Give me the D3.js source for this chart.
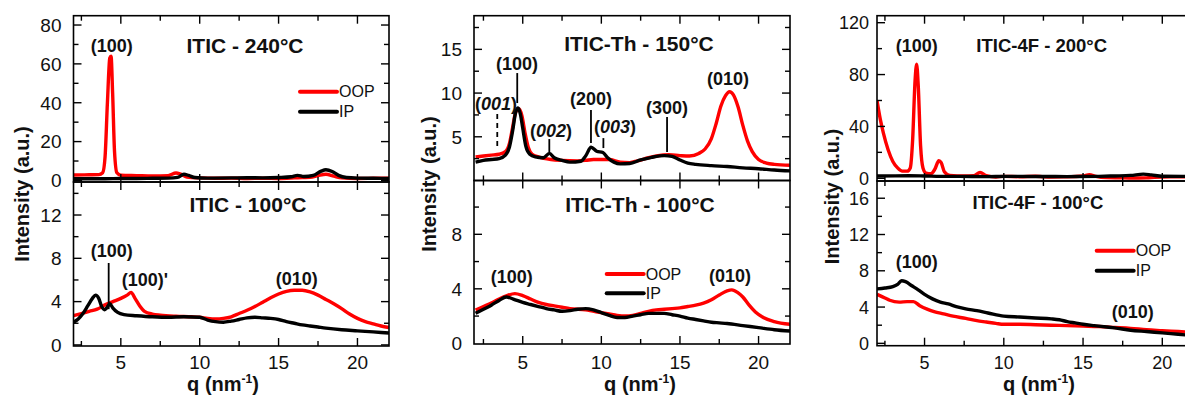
<!DOCTYPE html>
<html><head><meta charset="utf-8">
<script src="https://cdn.jsdelivr.net/npm/d3@7"></script>
<style>
html,body{margin:0;padding:0;background:#fff;}
svg text{font-family:"Liberation Sans",Arial,sans-serif;fill:#111;}
</style></head>
<body>
<svg id="chart" width="1185" height="399"></svg>
<script>
// ---------------- DATA ----------------
// [q (nm^-1), intensity (a.u.)]
const iticHot_OOP = [[2,2.8],[3,2.9],[3.6,3.0],[3.85,4],[4.0,12],[4.15,40],[4.3,63],[4.38,64],[4.48,45],[4.6,15],[4.75,4],[5,2.7],[6,2.5],[7,2.3],[8,2.5],[8.5,3.8],[8.8,3.2],[9.2,1.8],[10,1.3],[11,1.1],[12,1.2],[13,1.0],[14,1.1],[15,1.0],[16,1.3],[16.5,1.5],[17,1.6],[17.5,2.5],[18,3.2],[18.5,2.2],[19,1.3],[20,1.0],[21,1.1],[22,1.2]];
const iticHot_IP = [[2,0.9],[3,0.9],[4,0.9],[5,1.0],[6,1.0],[7,1.1],[8,1.2],[8.6,1.6],[9.0,3.2],[9.3,2.6],[9.7,1.5],[10.5,1.2],[12,1.3],[13,1.4],[14,1.3],[15,1.5],[15.8,1.9],[16.2,2.6],[16.6,2.0],[17.2,2.6],[17.7,4.8],[18.0,5.5],[18.4,4.6],[18.8,2.6],[19.3,1.5],[20,1.2],[21,1.1],[22,1.0]];
const iticCold_OOP = [[2,2.7],[2.5,2.9],[3,3.1],[3.5,3.3],[4,3.7],[4.5,4.0],[5,4.3],[5.4,4.6],[5.65,4.85],[5.9,4.3],[6.2,3.6],[6.5,3.1],[7,2.85],[7.5,2.75],[8.5,2.65],[9.5,2.6],[10,2.55],[10.5,2.45],[11,2.4],[11.5,2.45],[12,2.6],[12.5,2.9],[13,3.2],[13.5,3.55],[14,3.95],[14.5,4.35],[15,4.7],[15.5,4.95],[16,5.05],[16.5,5.05],[17,4.9],[17.5,4.6],[18,4.2],[18.5,3.8],[19,3.35],[19.5,2.85],[20,2.45],[20.5,2.15],[21,1.95],[21.5,1.75],[22,1.6]];
const iticCold_IP = [[2,2.1],[2.3,2.4],[2.6,2.9],[2.9,3.6],[3.2,4.3],[3.4,4.6],[3.6,4.3],[3.8,3.5],[3.95,3.25],[4.1,3.4],[4.3,3.8],[4.5,3.4],[4.8,3.0],[5.2,2.8],[6,2.7],[7,2.6],[8,2.55],[9,2.6],[10,2.55],[10.5,2.3],[11,2.15],[11.5,2.1],[12,2.2],[12.5,2.35],[13,2.5],[13.5,2.55],[14,2.5],[14.5,2.45],[15,2.35],[15.5,2.15],[16,2.0],[16.5,1.85],[17,1.75],[17.5,1.65],[18,1.55],[19,1.4],[20,1.3],[21,1.2],[22,1.1]];
const thHot_OOP = [[2,2.7],[2.5,2.8],[3,2.9],[3.5,3.0],[3.9,3.3],[4.15,4.2],[4.35,6.0],[4.55,7.8],[4.75,8.2],[4.95,7.4],[5.15,5.4],[5.35,3.8],[5.6,3.0],[6,2.7],[6.8,2.4],[7.5,2.3],[8.5,2.25],[9,2.3],[9.5,2.4],[10.5,2.4],[11.2,2.1],[11.8,2.05],[12.3,2.25],[13,2.6],[13.5,2.8],[14.3,2.95],[15,2.85],[15.6,2.8],[16.2,3.1],[16.6,3.6],[17,4.8],[17.3,6.5],[17.6,8.5],[17.9,9.7],[18.15,10.15],[18.4,9.8],[18.7,8.4],[19,6.3],[19.3,4.5],[19.6,3.3],[20,2.4],[20.5,2.0],[21,1.85],[22,1.75]];
const thHot_IP = [[2,2.1],[2.5,2.3],[3,2.4],[3.5,2.5],[3.9,2.9],[4.15,3.8],[4.35,5.6],[4.55,7.8],[4.7,8.3],[4.85,7.6],[5.0,6.0],[5.2,3.9],[5.45,3.0],[5.8,2.7],[6.3,2.6],[6.7,3.1],[7.0,2.6],[7.5,2.3],[8,2.1],[8.7,2.2],[9.0,2.8],[9.35,3.8],[9.7,3.35],[10.1,3.2],[10.4,2.6],[10.8,2.1],[11.2,1.9],[11.8,1.95],[12.5,2.35],[13.2,2.65],[14,2.85],[14.5,2.75],[15,2.35],[15.5,2.0],[16,1.85],[17,1.7],[18,1.6],[19,1.45],[20,1.35],[21,1.2],[22,1.1]];
const thCold_OOP = [[2,2.45],[2.5,2.7],[3,2.95],[3.5,3.25],[4,3.5],[4.5,3.65],[5,3.5],[5.5,3.25],[6,3.0],[6.5,2.85],[7,2.75],[7.5,2.65],[8,2.55],[9,2.45],[10,2.25],[10.5,2.15],[11,2.05],[11.5,2.0],[12,2.05],[12.5,2.2],[13,2.35],[13.5,2.45],[14,2.5],[14.5,2.55],[15,2.6],[15.5,2.7],[16,2.8],[16.5,2.95],[17,3.2],[17.5,3.55],[18,3.85],[18.3,3.92],[18.7,3.7],[19,3.4],[19.4,2.8],[19.8,2.3],[20.3,1.9],[21,1.6],[22,1.4]];
const thCold_IP = [[2,2.2],[2.5,2.5],[3,2.8],[3.5,3.15],[3.95,3.4],[4.4,3.25],[5,3.0],[5.5,2.85],[6,2.7],[6.5,2.55],[7,2.45],[7.5,2.35],[8,2.4],[8.5,2.5],[9,2.55],[9.5,2.45],[10,2.25],[10.5,2.05],[11,1.9],[11.5,1.9],[12,2.0],[12.5,2.1],[13,2.2],[13.5,2.2],[14,2.2],[14.5,2.1],[15,2.0],[15.5,1.85],[16,1.75],[16.5,1.65],[17,1.55],[17.5,1.5],[18,1.45],[19,1.3],[20,1.15],[21,1.0],[22,0.9]];
const fHot_OOP = [[2.0,60],[2.2,46],[2.4,35],[2.7,22],[3.0,13],[3.3,8],[3.6,5.5],[3.9,5.5],[4.1,8],[4.25,30],[4.4,75],[4.5,88],[4.6,72],[4.75,25],[4.9,8],[5.1,4],[5.4,3.5],[5.65,7],[5.9,13.5],[6.05,12],[6.25,5],[6.6,2.2],[7.5,1.8],[8.1,2.0],[8.5,4.5],[8.9,2.0],[9.5,1.0],[10,1.5],[11,1.2],[12,1.6],[12.5,1.2],[13,1.0],[14,1.1],[15,1.8],[15.4,2.8],[15.8,1.5],[16.5,0.5],[17.5,0.3],[18.5,0.2],[19,0.3],[19.5,0.8],[20.5,1.2],[22,1.0]];
const fHot_IP = [[2,1.8],[4,1.9],[5,1.8],[6,1.5],[7,1.5],[9,1.3],[10,1.5],[12,1.4],[14,1.3],[16,1.5],[17,1.8],[18,2.2],[18.8,3.2],[19.3,2.6],[20,1.6],[22,1.4]];
const fCold_OOP = [[2,5.4],[2.5,5.0],[2.8,4.75],[3.4,4.55],[3.9,4.6],[4.3,4.6],[4.7,4.15],[5.2,3.75],[5.6,3.5],[6.2,3.25],[6.8,3.0],[7.6,2.75],[8.3,2.5],[8.9,2.35],[9.5,2.2],[10,2.1],[11,2.1],[12,2.05],[13,2.0],[14,1.95],[15,1.9],[16,1.85],[17,1.75],[18,1.65],[19,1.5],[20,1.4],[21,1.3],[22,1.2]];
const fCold_IP = [[2,6.0],[2.5,6.1],[3.0,6.25],[3.3,6.5],[3.55,6.9],[3.8,6.8],[4.2,6.35],[4.6,5.9],[5,5.4],[5.5,4.9],[6,4.55],[6.5,4.35],[7,4.05],[7.6,3.8],[8.3,3.6],[9,3.35],[10,3.0],[11,2.9],[12,2.8],[13,2.7],[13.5,2.6],[14,2.4],[14.5,2.25],[15,2.1],[15.7,1.95],[16.5,1.8],[17,1.7],[18,1.45],[19,1.3],[20,1.15],[21,1.0],[22,0.85]];

const xTickLabels = [5,10,15,20];
const yLabels_iticHot = [0,20,40,60,80];
const yLabels_iticCold = [0,4,8,12];
const yLabels_thHot = [5,10,15];
const yLabels_thCold = [0,4,8];
const yLabels_fHot = [0,40,80,120];
const yLabels_fCold = [0,4,8,12,16];

const titles = ["ITIC - 240°C","ITIC - 100°C","ITIC-Th - 150°C","ITIC-Th - 100°C","ITIC-4F - 200°C","ITIC-4F - 100°C"];
const seriesNames = ["OOP","IP"];

// ---------------- LAYOUT ----------------
const svg = d3.select("#chart");
svg.append("rect").attr("width",1185).attr("height",399).attr("fill","#fff");
const RED = "#ff0000", BLACK = "#000000";
let clipId = 0;

function drawSub(o){
  const g = svg.append("g");
  const x = d3.scaleLinear().domain(o.xd).range([o.x0,o.x1]);
  const y = d3.scaleLinear().domain(o.yd).range([o.y1,o.y0]);
  const cid = "clip"+(clipId++);
  svg.append("clipPath").attr("id",cid).append("rect")
    .attr("x",o.x0).attr("y",o.y0).attr("width",o.x1-o.x0).attr("height",o.y1-o.y0);
  const line = d3.line().x(d=>x(d[0])).y(d=>y(d[1])).curve(d3.curveMonotoneX);
  const lg = g.append("g").attr("clip-path","url(#"+cid+")");
  lg.append("path").datum(o.red).attr("d",line).attr("fill","none").attr("stroke",RED).attr("stroke-width",3.4).attr("stroke-linejoin","round");
  lg.append("path").datum(o.black).attr("d",line).attr("fill","none").attr("stroke",BLACK).attr("stroke-width",3.4).attr("stroke-linejoin","round");
  // frame
  g.append("rect").attr("x",o.x0).attr("y",o.y0).attr("width",o.x1-o.x0).attr("height",o.y1-o.y0)
    .attr("fill","none").attr("stroke","#000").attr("stroke-width",1.6);
  const tk = g.append("g").attr("stroke","#000").attr("stroke-width",1.4);
  // y ticks
  const ys = d3.range(Math.ceil(o.yd[0]/o.yMinor)*o.yMinor, o.yd[1]+1e-9, o.yMinor);
  ys.forEach(v=>{
    const major = Math.abs(v/o.yMajor - Math.round(v/o.yMajor))<1e-6;
    const L = major?8:5;
    const yy = y(v);
    if (yy < o.y0+1 || yy > o.y1-1) return;
    tk.append("line").attr("x1",o.x0).attr("x2",o.x0+L).attr("y1",yy).attr("y2",yy);
    tk.append("line").attr("x1",o.x1).attr("x2",o.x1-L).attr("y1",yy).attr("y2",yy);
  });
  // x ticks
  d3.range(2.5,22,2.5).forEach(v=>{
    const major = v%5===0;
    const L = major?8:5;
    const xx = x(v);
    tk.append("line").attr("x1",xx).attr("x2",xx).attr("y1",o.y0).attr("y2",o.y0+L);
    tk.append("line").attr("x1",xx).attr("x2",xx).attr("y1",o.y1).attr("y2",o.y1-L);
  });
  // y labels
  g.selectAll(null).data(o.yLabels).enter().append("text")
    .attr("x",o.x0-o.labGap).attr("y",d=>y(d)).attr("dy","0.36em")
    .attr("text-anchor","end").style("font-size",o.fs+"px").text(d=>d);
  // title
  g.append("text").attr("x",o.title[0]).attr("y",o.title[1]).attr("text-anchor","middle")
    .style("font-size",o.titleFs+"px").style("font-weight","bold").text(o.title[2]);
  if (o.xLabels){
    g.selectAll(null).data(o.xLabels).enter().append("text")
      .attr("x",d=>x(d)).attr("y",368.5).attr("text-anchor","middle")
      .style("font-size",o.fs+"px").text(d=>d);
  }
  return {x,y,g};
}

function annot(t, px, py, italic, fs){
  const tx = svg.append("text").attr("x",px).attr("y",py).attr("text-anchor","middle")
    .style("font-size",(fs||18)+"px").style("font-weight","bold");
  if (italic){
    tx.append("tspan").text("(");
    tx.append("tspan").style("font-style","italic").text(t);
    tx.append("tspan").text(")");
  } else tx.text(t);
}
function marker(s, q, v0, v1, dashed){
  const l = svg.append("line").attr("x1",s.x(q)).attr("x2",s.x(q)).attr("y1",s.y(v0)).attr("y2",s.y(v1))
    .attr("stroke","#000").attr("stroke-width",1.8);
  if (dashed) l.attr("stroke-dasharray","5,4");
}
function legend(x0, yRed, yBlack){
  [[RED,yRed,seriesNames[0]],[BLACK,yBlack,seriesNames[1]]].forEach(([c,yy,name])=>{
    svg.append("line").attr("x1",x0).attr("x2",x0+37).attr("y1",yy).attr("y2",yy)
      .attr("stroke",c).attr("stroke-width",4).attr("stroke-linecap","round");
    svg.append("text").attr("x",x0+39).attr("y",yy).attr("dy","0.36em").style("font-size","16px").text(name);
  });
}
function xTitle(cx){
  const t = svg.append("text").attr("x",cx).attr("y",391).attr("text-anchor","middle")
    .style("font-size","20px").style("font-weight","bold");
  t.append("tspan").text("q (nm");
  t.append("tspan").attr("dy",-8).style("font-size","12px").text("-1");
  t.append("tspan").attr("dy",8).text(")");
}
function yTitle(cx, cy){
  svg.append("text").attr("transform",`translate(${cx},${cy}) rotate(-90)`).attr("text-anchor","middle")
    .attr("dy","0.36em").style("font-size","20px").style("font-weight","bold").text("Intensity (a.u.)");
}

// Panel 1 : ITIC
const p1t = drawSub({x0:73.5,x1:389,xd:[2,22],y0:15.7,y1:182,yd:[-0.8,84.8],yMinor:10,yMajor:20,
  red:iticHot_OOP,black:iticHot_IP,yLabels:yLabels_iticHot,labGap:12,fs:19,title:[245,52.5,titles[0]],titleFs:21});
const p1b = drawSub({x0:73.5,x1:389,xd:[2,22],y0:182,y1:346,yd:[-0.1,15.05],yMinor:2,yMajor:4,
  red:iticCold_OOP,black:iticCold_IP,yLabels:yLabels_iticCold,labGap:12,fs:19,title:[248,211.5,titles[1]],titleFs:21,xLabels:xTickLabels});
annot("(100)",111.7,51.5);
legend(300,91.7,111.7);
annot("(100)",111.7,256.5);
annot("(100)'",145,285.5);
annot("(010)",296.7,284.5);
marker(p1b,4.23,7.57,3.3);
xTitle(223); yTitle(21.7,194);

// Panel 2 : ITIC-Th
const p2t = drawSub({x0:474,x1:790,xd:[1.9,22],y0:15.7,y1:180.5,yd:[0,18.85],yMinor:2.5,yMajor:5,
  red:thHot_OOP,black:thHot_IP,yLabels:yLabels_thHot,labGap:12,fs:19,title:[639,50.5,titles[2]],titleFs:21});
const p2b = drawSub({x0:474,x1:790,xd:[1.9,22],y0:180.5,y1:344,yd:[-0.05,11.95],yMinor:2,yMajor:4,
  red:thCold_OOP,black:thCold_IP,yLabels:yLabels_thCold,labGap:12,fs:19,title:[640,211.5,titles[3]],titleFs:21,xLabels:xTickLabels});
annot("(100)",517,69.5);
annot("001",496,109.5,true);
annot("002",551,136.5,true);
annot("(200)",591,104.5);
annot("003",615,133,true);
annot("(300)",667,113.5);
annot("(010)",728,84.5);
marker(p2t,3.38,7.6,3.82,true);
marker(p2t,4.65,12.29,8.86);
marker(p2t,6.69,4.74,3.25);
marker(p2t,9.34,8.05,4.28);
marker(p2t,10.13,4.85,3.71);
marker(p2t,14.18,7.25,3.25);
annot("(100)",511.7,283);
annot("(010)",730,281.5);
legend(606.7,274,293.3);
xTitle(640); yTitle(428.3,184);

// Panel 3 : ITIC-4F
const p3t = drawSub({x0:877,x1:1194,xd:[2,22],y0:15.7,y1:181,yd:[-2.1,125.4],yMinor:20,yMajor:40,
  red:fHot_OOP,black:fHot_IP,yLabels:yLabels_fHot,labGap:8,fs:18,title:[1041.7,51.6,titles[4]],titleFs:18.5});
const p3b = drawSub({x0:877,x1:1194,xd:[2,22],y0:181,y1:345.7,yd:[-0.26,17.9],yMinor:2,yMajor:4,
  red:fCold_OOP,black:fCold_IP,yLabels:yLabels_fCold,labGap:8,fs:18,title:[1038,209.3,titles[5]],titleFs:18.5,xLabels:xTickLabels});
annot("(100)",916.7,51.5);
annot("(100)",916.7,268);
annot("(010)",1132.7,318);
legend(1096.7,250.7,270.7);
xTitle(1039); yTitle(831.7,196.5);
</script>
</body></html>
